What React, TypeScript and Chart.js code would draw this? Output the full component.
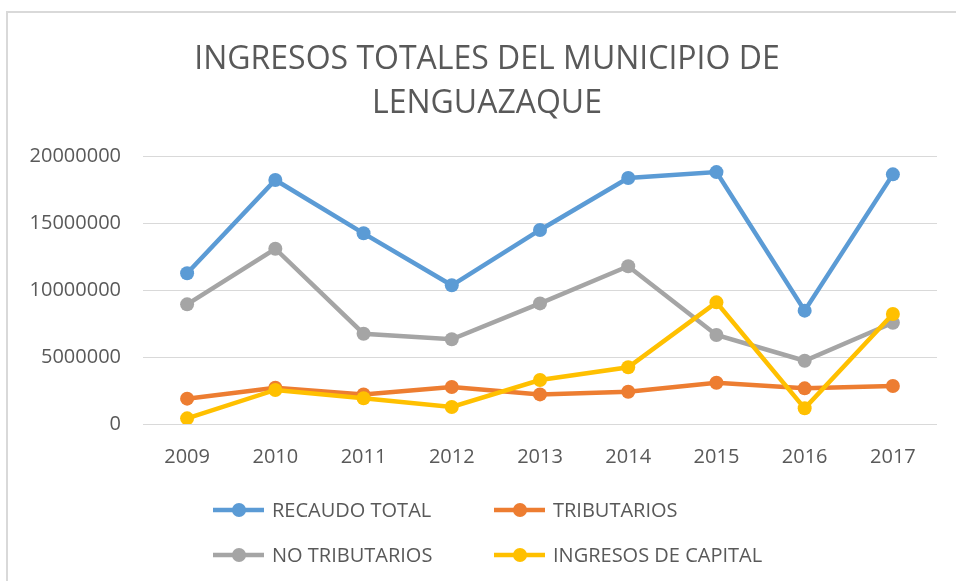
import React, { useEffect, useRef } from "react";
import { Chart, registerables } from "chart.js";

Chart.register(...registerables);

const YEARS = ["2009", "2010", "2011", "2012", "2013", "2014", "2015", "2016", "2017"];
const RECAUDO_TOTAL = [11250000, 18210000, 14230000, 10350000, 14480000, 18360000, 18800000, 8460000, 18630000];
const TRIBUTARIOS = [1890000, 2710000, 2210000, 2760000, 2210000, 2410000, 3080000, 2660000, 2840000];
const NO_TRIBUTARIOS = [8930000, 13080000, 6740000, 6320000, 9000000, 11770000, 6640000, 4720000, 7560000];
const INGRESOS_DE_CAPITAL = [420000, 2540000, 1920000, 1270000, 3280000, 4230000, 9080000, 1170000, 8210000];
const SERIES_NAMES = ["RECAUDO TOTAL", "TRIBUTARIOS", "NO TRIBUTARIOS", "INGRESOS DE CAPITAL"];
const SERIES_COLORS = ["#5B9BD5", "#ED7D31", "#A5A5A5", "#FFC000"];
const TITLE_LINES = ["INGRESOS TOTALES DEL MUNICIPIO DE", "LENGUAZAQUE"];
const Y_MIN = 0;
const Y_MAX = 20000000;
const Y_STEP = 5000000;

const FONT = "'Open Sans', 'Noto Sans', sans-serif";
const TEXT_COLOR = "#595959";

const decorPlugin = {
  id: "decor",
  beforeDraw(chart: any) {
    const ctx = chart.ctx;
    ctx.save();
    ctx.fillStyle = "#ffffff";
    ctx.fillRect(0, 0, chart.width, chart.height);
    ctx.strokeStyle = "#d9d9d9";
    ctx.lineWidth = 2;
    ctx.strokeRect(7, 12, chart.width + 50, chart.height + 50);
    ctx.restore();
  },
  afterDraw(chart: any) {
    const ctx = chart.ctx;
    ctx.save();
    // Title
    ctx.fillStyle = TEXT_COLOR;
    ctx.textAlign = "center";
    ctx.textBaseline = "middle";
    ctx.font = `32px ${FONT}`;
    const cx = 487;
    const lineYs = [60, 104];
    TITLE_LINES.forEach((t, i) => ctx.fillText(t, cx, lineYs[i]));

    // Legend (2 x 2)
    const cols = [213, 494];
    const rows = [510, 555];
    chart.data.datasets.forEach((ds: any, i: number) => {
      const x = cols[i % 2];
      const y = rows[Math.floor(i / 2)];
      ctx.strokeStyle = ds.borderColor;
      ctx.lineWidth = 4.5;
      ctx.beginPath();
      ctx.moveTo(x, y);
      ctx.lineTo(x + 51, y);
      ctx.stroke();
      ctx.fillStyle = ds.borderColor;
      ctx.beginPath();
      ctx.arc(x + 26, y, 7, 0, Math.PI * 2);
      ctx.fill();
      ctx.fillStyle = TEXT_COLOR;
      ctx.textAlign = "left";
      ctx.textBaseline = "middle";
      ctx.font = `20px ${FONT}`;
      ctx.fillText(ds.label, x + 59, y + 1);
    });
    ctx.restore();
  },
};

export default function App() {
  const canvasRef = useRef<HTMLCanvasElement | null>(null);

  useEffect(() => {
    if (!canvasRef.current) return;
    const seriesValues = [RECAUDO_TOTAL, TRIBUTARIOS, NO_TRIBUTARIOS, INGRESOS_DE_CAPITAL];
    const chart = new Chart(canvasRef.current, {
      type: "line",
      data: {
        labels: YEARS,
        datasets: seriesValues.map((vals, i) => ({
          label: SERIES_NAMES[i],
          data: vals,
          borderColor: SERIES_COLORS[i],
          backgroundColor: SERIES_COLORS[i],
          pointBackgroundColor: SERIES_COLORS[i],
          pointBorderColor: SERIES_COLORS[i],
          borderWidth: 4.5,
          pointRadius: 7,
          pointBorderWidth: 0,
          tension: 0,
          fill: false,
          order: 4 - i,
        })),
      },
      options: {
        responsive: false,
        animation: false,
        layout: { padding: { top: 156, right: 19, bottom: 107, left: 0 } },
        plugins: {
          legend: { display: false },
          title: { display: false },
          tooltip: { enabled: false },
        },
        scales: {
          x: {
            offset: true,
            grid: { display: false, drawTicks: false },
            border: { display: false },
            ticks: { color: TEXT_COLOR, font: { family: FONT, size: 20 }, padding: 21, maxRotation: 0 },
            afterFit(scale: any) {
              scale.height = 50;
            },
          },
          y: {
            min: Y_MIN,
            max: Y_MAX,
            ticks: {
              stepSize: Y_STEP,
              color: TEXT_COLOR,
              font: { family: FONT, size: 20 },
              padding: 22,
              callback: (v: any) => String(v),
            },
            grid: { color: "#d9d9d9", lineWidth: 1, drawTicks: false },
            border: { display: false },
            afterFit(scale: any) {
              scale.width = 143;
            },
          },
        },
      },
      plugins: [decorPlugin],
    });
    return () => chart.destroy();
  }, []);

  return (
    <div style={{ position: "fixed", left: 0, top: 0, width: 956, height: 581 }}>
      <canvas ref={canvasRef} width={956} height={581} style={{ display: "block" }} />
    </div>
  );
}
